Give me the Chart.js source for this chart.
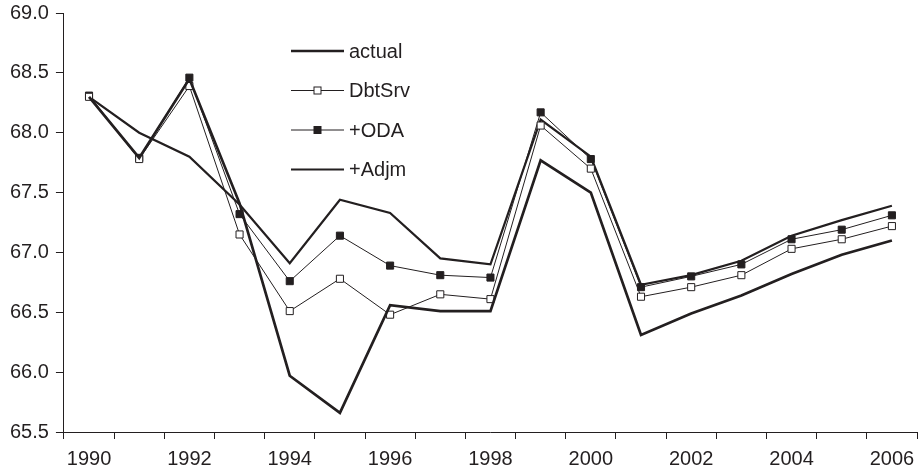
<!DOCTYPE html>
<html>
<head>
<meta charset="utf-8">
<script src="https://cdn.jsdelivr.net/npm/chart.js@4/dist/chart.umd.min.js"></script>
<style>
  html, body { margin: 0; padding: 0; background: #fff; }
  #wrap { width: 923px; height: 473px; }
</style>
</head>
<body>
<div id="wrap"><canvas id="myChart" width="923" height="473"></canvas></div>
<script>
// data
const years = ['1990','1991','1992','1993','1994','1995','1996','1997','1998',
               '1999','2000','2001','2002','2003','2004','2005','2006'];
const actual = [68.30, 67.79, 68.45, 67.41, 65.97, 65.66, 66.56, 66.51, 66.51,
                67.77, 67.50, 66.31, 66.49, 66.64, 66.82, 66.98, 67.10];
const dbtSrv = [68.30, 67.78, 68.39, 67.15, 66.51, 66.78, 66.48, 66.65, 66.61,
                68.06, 67.70, 66.63, 66.71, 66.81, 67.03, 67.11, 67.22];
const oda    = [68.31, 67.79, 68.46, 67.32, 66.76, 67.14, 66.89, 66.81, 66.79,
                68.17, 67.78, 66.71, 66.80, 66.90, 67.11, 67.19, 67.31];
const adjm   = [68.30, 68.00, 67.80, 67.40, 66.91, 67.44, 67.33, 66.95, 66.90,
                68.11, 67.80, 66.73, 66.81, 66.93, 67.14, 67.27, 67.39];
const yMin = 65.5, yMax = 69.0, yStep = 0.5;

const ink = '#231f20';
const font = { family: '"Liberation Sans", Arial, sans-serif', size: 20 };

// legend drawn inside the plot, like the original
const innerLegend = {
  id: 'innerLegend',
  afterDraw(chart) {
    const ctx = chart.ctx;
    const x0 = 291, x1 = 344, tx = 349;
    let y = 51;
    ctx.save();
    ctx.font = font.size + 'px ' + font.family;
    ctx.textBaseline = 'middle';
    ctx.textAlign = 'left';
    chart.data.datasets.forEach(ds => {
      ctx.strokeStyle = ink;
      ctx.lineWidth = ds.borderWidth;
      ctx.beginPath();
      ctx.moveTo(x0, y);
      ctx.lineTo(x1, y);
      ctx.stroke();
      if (ds.pointRadius > 0) {
        const s = 7;
        ctx.fillStyle = ds.pointBackgroundColor;
        ctx.lineWidth = 1;
        ctx.fillRect((x0 + x1) / 2 - s / 2, y - s / 2, s, s);
        ctx.strokeRect((x0 + x1) / 2 - s / 2, y - s / 2, s, s);
      }
      ctx.fillStyle = ink;
      ctx.fillText(ds.label, tx, y + 1);
      y += 39.5;
    });
    ctx.restore();
  }
};

const ctx = document.getElementById('myChart').getContext('2d');

const myChart = new Chart(ctx, {
    type: 'line',
    data: {
        labels: years,
        datasets: [{
            label: 'actual',
            data: actual,
            borderColor: ink,
            borderWidth: 2.7,
            pointRadius: 0,
            tension: 0
        },
        {
            label: 'DbtSrv',
            data: dbtSrv,
            borderColor: ink,
            borderWidth: 1,
            pointStyle: 'rect',
            pointRadius: 5,
            pointBackgroundColor: '#ffffff',
            pointBorderColor: ink,
            pointBorderWidth: 1,
            tension: 0
        },
        {
            label: '+ODA',
            data: oda,
            borderColor: ink,
            borderWidth: 1,
            pointStyle: 'rect',
            pointRadius: 5,
            pointBackgroundColor: ink,
            pointBorderColor: ink,
            pointBorderWidth: 1,
            tension: 0
        },
        {
            label: '+Adjm',
            data: adjm,
            borderColor: ink,
            borderWidth: 2.2,
            pointRadius: 0,
            tension: 0
        }]
    },
    options: {
        responsive: false,
        animation: false,
        events: [],
        layout: { padding: { left: 3, right: 5, top: 0, bottom: -6 } },
        plugins: {
            legend: { display: false },
            tooltip: { enabled: false }
        },
        scales: {
            x: {
                offset: true,
                grid: {
                    offset: true,
                    drawOnChartArea: false,
                    drawTicks: true,
                    tickLength: 7,
                    color: ink
                },
                border: { color: ink, width: 1 },
                ticks: {
                    autoSkip: false,
                    maxRotation: 0,
                    padding: 8,
                    color: ink,
                    font: font,
                    callback: function(val, i) { return i % 2 === 0 ? years[i] : ''; }
                }
            },
            y: {
                min: yMin,
                max: yMax,
                afterFit: function(scale) { scale.paddingTop = 13; },
                grid: {
                    drawOnChartArea: false,
                    drawTicks: true,
                    tickLength: 8,
                    color: ink
                },
                border: { color: ink, width: 1 },
                ticks: {
                    stepSize: yStep,
                    padding: 7,
                    color: ink,
                    font: font,
                    callback: v => v.toFixed(1)
                }
            }
        }
    },
    plugins: [innerLegend]
});
</script>
</body>
</html>
